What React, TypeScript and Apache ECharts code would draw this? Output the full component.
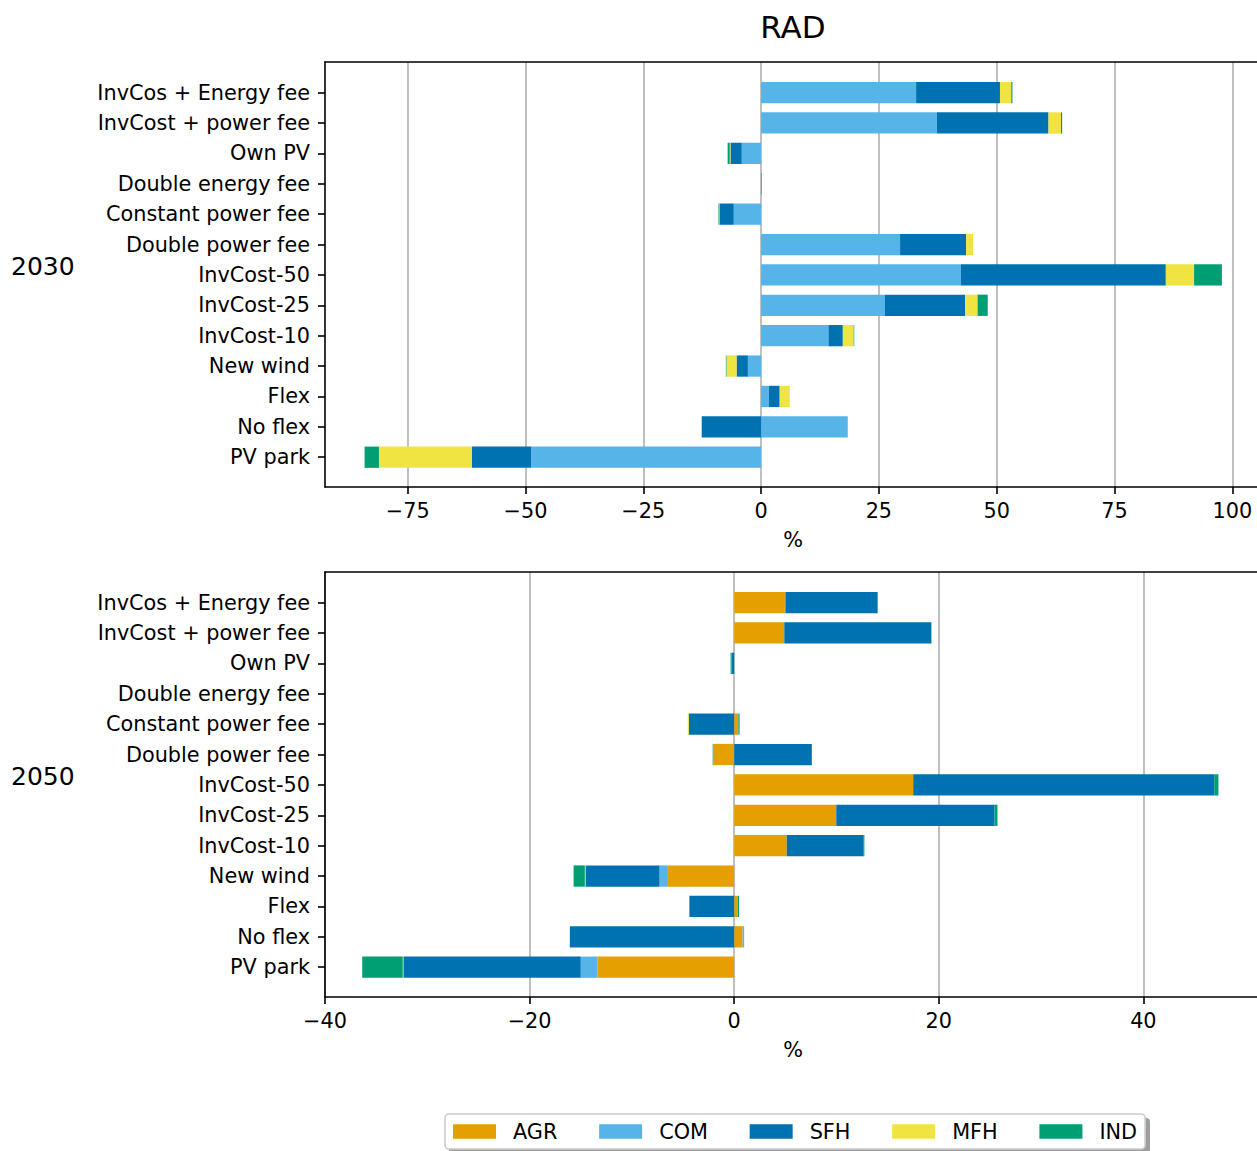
import React, { useEffect, useRef } from "react";
import * as echarts from "echarts";

const FONT = "DejaVu Sans";

const categories = [
  "InvCos + Energy fee",
  "InvCost + power fee",
  "Own PV",
  "Double energy fee",
  "Constant power fee",
  "Double power fee",
  "InvCost-50",
  "InvCost-25",
  "InvCost-10",
  "New wind",
  "Flex",
  "No flex",
  "PV park",
];

const seriesNames = ["AGR", "COM", "SFH", "MFH", "IND"];
const seriesColors = ["#E69F00", "#56B4E9", "#0072B2", "#F0E442", "#009E73"];

// 2030 (values in %)
const agr2030 = [0, 0, 0, 0, 0, 0, 0, 0, 0, 0, 0, 0, 0];
const com2030 = [32.9, 37.3, -4.1, 0, -5.8, 29.5, 42.4, 26.3, 14.3, -2.8, 1.65, 18.4, -48.8];
const sfh2030 = [17.8, 23.7, -2.4, 0, -3.05, 14.0, 43.5, 17.0, 3.05, -2.4, 2.3, -12.6, -12.6];
const mfh2030 = [2.4, 2.65, -0.15, 0, -0.15, 1.5, 6.0, 2.65, 2.3, -2.15, 2.15, 0, -19.7];
const ind2030 = [0.25, 0.25, -0.45, 0.1, -0.1, 0, 5.9, 2.15, 0.12, -0.13, 0, 0, -3.05];

// 2050 (values in %)
const agr2050 = [4.96, 4.9, 0, 0, 0.41, -2.04, 17.5, 9.98, 5.14, -6.48, 0.35, 0.82, -13.37];
const com2050 = [0.05, 0, 0, 0, 0, 0, 0, 0, 0, -0.82, 0, 0.1, -1.63];
const sfh2050 = [8.99, 14.36, -0.25, 0, -4.44, 7.59, 29.43, 15.47, 7.47, -7.24, -4.38, -16.05, -17.34];
const mfh2050 = [0, 0, 0, 0, -0.1, 0, 0, 0, 0, -0.06, 0, -0.06, -0.06];
const ind2050 = [0.05, 0.03, -0.1, 0, 0.12, -0.06, 0.41, 0.29, 0.12, -1.1, 0.12, 0.05, -3.96];

const ticks2030 = [-75, -50, -25, 0, 25, 50, 75, 100];
const ticks2050 = [-40, -20, 0, 20, 40];

const yearLabels = ["2030", "2050"];
const titleText = "RAD";

const fmt = (v: number) => (v < 0 ? "\u2212" + Math.abs(v) : String(v));

export default function App() {
  const ref = useRef<HTMLDivElement>(null);

  useEffect(() => {
    if (!ref.current) return;
    const chart = echarts.init(ref.current, undefined, { renderer: "svg" });

    const LW = 1.6;
    const tickFont = 20.8;
    const data2030 = [agr2030, com2030, sfh2030, mfh2030, ind2030];
    const data2050 = [agr2050, com2050, sfh2050, mfh2050, ind2050];
    const min30 = -92.55;
    const max30 = 106.1;
    const min50 = -40;
    const max50 = 51.5;

    const frameGrid = (top: number) => ({
      left: 325,
      right: -4,
      top,
      height: 425,
      show: false,
      containLabel: false,
      outerBoundsMode: "none",
    });
    const barGrid = (top: number) => ({
      left: 325,
      right: -4,
      top: top + 15.4,
      height: 395,
      containLabel: false,
      outerBoundsMode: "none",
    });

    const frameX = (gridIndex: number, min: number, max: number, ticks: number[]) => ({
      gridIndex,
      type: "value",
      position: "bottom",
      min,
      max,
      name: "%",
      nameLocation: "middle",
      nameGap: 42,
      nameTextStyle: { fontFamily: FONT, fontSize: tickFont, color: "#000", lineHeight: 21 },
      axisLine: { show: true, onZero: false, lineStyle: { color: "#000", width: LW } },
      axisTick: { show: true, length: 7, lineStyle: { color: "#000", width: LW }, customValues: ticks },
      axisLabel: {
        show: true,
        customValues: ticks,
        formatter: fmt,
        fontFamily: FONT,
        fontSize: tickFont,
        color: "#000",
        margin: 13,
        lineHeight: 21,
        hideOverlap: false,
      },
      splitLine: { show: true, lineStyle: { color: "#b0b0b0", width: LW } },
    });
    const topSpineX = (gridIndex: number, min: number, max: number) => ({
      gridIndex,
      type: "value",
      position: "top",
      min,
      max,
      axisLine: { show: true, onZero: false, lineStyle: { color: "#000", width: LW } },
      axisTick: { show: false },
      axisLabel: { show: false },
      splitLine: { show: false },
    });
    const barX = (gridIndex: number, min: number, max: number) => ({
      gridIndex,
      type: "value",
      min,
      max,
      show: false,
      splitLine: { show: false },
    });
    const frameY = (gridIndex: number) => ({
      gridIndex,
      type: "value",
      position: "left",
      min: 0,
      max: 1,
      axisLine: { show: true, onZero: false, lineStyle: { color: "#000", width: LW } },
      axisTick: { show: false },
      axisLabel: { show: false },
      splitLine: { show: false },
    });
    const barY = (gridIndex: number) => ({
      gridIndex,
      type: "category",
      data: categories,
      inverse: true,
      axisLine: { show: false, onZero: false },
      axisTick: { show: true, alignWithLabel: true, length: 7, lineStyle: { color: "#000", width: LW } },
      axisLabel: { fontFamily: FONT, fontSize: tickFont, color: "#000", margin: 15 },
      splitLine: { show: false },
    });

    const mkSeries = (data: number[][], xIndex: number, yIndex: number, stack: string) =>
      seriesNames.map((name, i) => ({
        type: "bar",
        name,
        xAxisIndex: xIndex,
        yAxisIndex: yIndex,
        stack,
        barWidth: "70%",
        data: data[i],
        itemStyle: { color: seriesColors[i] },
        emphasis: { disabled: true },
      }));

    const option: any = {
      animation: false,
      textStyle: { fontFamily: FONT },
      grid: [frameGrid(62), barGrid(62), frameGrid(572), barGrid(572)],
      xAxis: [
        frameX(0, min30, max30, ticks2030),
        barX(1, min30, max30),
        frameX(2, min50, max50, ticks2050),
        barX(3, min50, max50),
        topSpineX(0, min30, max30),
        topSpineX(2, min50, max50),
      ],
      yAxis: [frameY(0), barY(1), frameY(2), barY(3)],
      series: [...mkSeries(data2030, 1, 1, "s2030"), ...mkSeries(data2050, 3, 3, "s2050")],
      legend: {
        data: seriesNames,
        left: 445,
        top: 1114,
        orient: "horizontal",
        icon: "rect",
        itemWidth: 43,
        itemHeight: 14.6,
        itemGap: 41.7,
        padding: [7, 8, 7, 8],
        backgroundColor: "#ffffff",
        borderColor: "#cccccc",
        borderWidth: LW,
        borderRadius: 4,
        textStyle: {
          fontFamily: FONT,
          fontSize: tickFont,
          color: "#000",
          lineHeight: 21,
          padding: [0, 0, 0, 12],
        },
      },
      graphic: [
        {
          type: "rect",
          shape: { x: 449, y: 1118, width: 701, height: 36, r: 4 },
          style: { fill: "rgba(0,0,0,0.38)" },
          z: 0,
        },
        {
          type: "text",
          x: 793,
          y: 27,
          style: {
            text: titleText,
            fontFamily: FONT,
            fontSize: 31,
            fill: "#000",
            textAlign: "center",
            textVerticalAlign: "middle",
          },
        },
        {
          type: "text",
          x: 11,
          y: 266,
          style: {
            text: yearLabels[0],
            fontFamily: FONT,
            fontSize: 25,
            fill: "#000",
            textAlign: "left",
            textVerticalAlign: "middle",
          },
        },
        {
          type: "text",
          x: 11,
          y: 776,
          style: {
            text: yearLabels[1],
            fontFamily: FONT,
            fontSize: 25,
            fill: "#000",
            textAlign: "left",
            textVerticalAlign: "middle",
          },
        },
      ],
    };

    chart.setOption(option);
    return () => chart.dispose();
  }, []);

  return (
    <div
      ref={ref}
      style={{ position: "absolute", left: 0, top: 0, width: 1257, height: 1151, background: "#fff" }}
    />
  );
}
